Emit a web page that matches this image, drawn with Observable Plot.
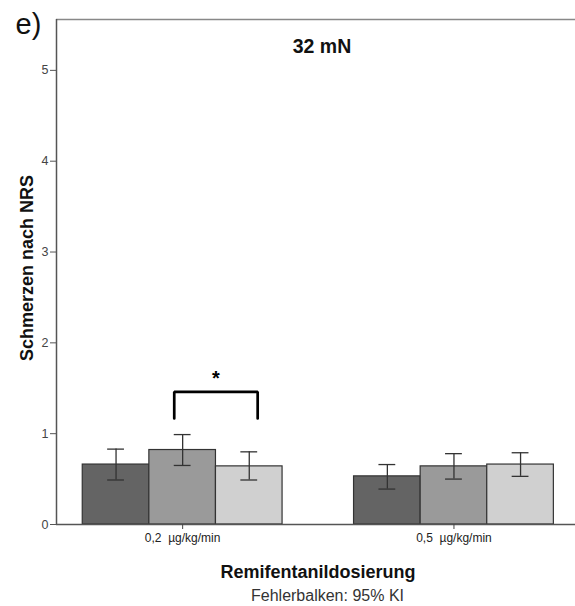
<!DOCTYPE html>
<html>
<head>
<meta charset="utf-8">
<script src="https://cdn.jsdelivr.net/npm/d3@7"></script>
<script src="https://cdn.jsdelivr.net/npm/@observablehq/plot@0.6"></script>
<style>
  html, body { margin: 0; padding: 0; background: #fff; overflow: hidden; }
  #chart { width: 575px; height: 606px; overflow: hidden; }
</style>
</head>
<body>
<div id="chart"></div>
<script>
// ---- data ----
const panelLabel = "e)";
const title = "32 mN";
const yLabel = "Schmerzen nach NRS";
const xLabel = "Remifentanildosierung";
const caption = "Fehlerbalken: 95% KI";
const groups = ["0,2  µg/kg/min", "0,5  µg/kg/min"];
const series = ["Messung 1", "Messung 2", "Messung 3"];
const seriesColors = ["#646464", "#9a9a9a", "#d0d0d0"];
const means = [[0.66, 0.82, 0.64], [0.53, 0.64, 0.66]];
const lower = [[0.49, 0.65, 0.49], [0.39, 0.50, 0.53]];
const upper = [[0.83, 0.99, 0.80], [0.66, 0.78, 0.79]];
const yTicks = [0, 1, 2, 3, 4, 5];
const yMax = 5.56;
// significance bracket: group 0, between series 1 and 2
const sig = [{group: 0, from: 1, to: 2, legY: 1.168, topY: 1.46, label: "*", labelY: 1.66}];

// ---- layout helpers (scale-unit geometry) ----
const xDomain = [-0.465, 1.448];
const barW = 0.2455;   // bar width in group units
const capHalf = 0.031; // error-bar cap half width
const xc = (g, s) => g + (s - 1) * barW;

const rows = [];
groups.forEach((g, gi) => series.forEach((s, si) => rows.push({
  gi, si, group: g, series: s, mean: means[gi][si], lo: lower[gi][si], hi: upper[gi][si]
})));

const bracketPts = [];
sig.forEach((b, k) => {
  const xa = xc(b.group, b.from) - capHalf, xb = xc(b.group, b.to) + capHalf;
  bracketPts.push({k, x: xa, y: b.legY}, {k, x: xa, y: b.topY}, {k, x: xb, y: b.topY}, {k, x: xb, y: b.legY});
});

const font = "Liberation Sans, Arial, sans-serif";

const chart = Plot.plot({
  width: 575,
  height: 606,
  marginLeft: 56,
  marginRight: 0,
  marginTop: 19,
  marginBottom: 82,
  style: {fontFamily: font, background: "#fff"},
  x: {domain: xDomain, range: [56, 575], label: null, axis: null},
  y: {domain: [0, yMax], label: null, axis: null},
  color: {domain: series, range: seriesColors},
  marks: [
    Plot.ruleY([yMax], {x1: xDomain[0], x2: xDomain[1], stroke: "#888", strokeWidth: 1.6}),
    Plot.rectY(rows, {x1: d => xc(d.gi, d.si) - barW / 2, x2: d => xc(d.gi, d.si) + barW / 2,
      y1: 0, y2: "mean", fill: "series", stroke: "#333", strokeWidth: 1.2}),
    Plot.ruleX(rows, {x: d => xc(d.gi, d.si), y1: "lo", y2: "hi", stroke: "#333", strokeWidth: 1.3}),
    Plot.ruleY(rows, {y: "hi", x1: d => xc(d.gi, d.si) - capHalf, x2: d => xc(d.gi, d.si) + capHalf, stroke: "#333", strokeWidth: 1.3}),
    Plot.ruleY(rows, {y: "lo", x1: d => xc(d.gi, d.si) - capHalf, x2: d => xc(d.gi, d.si) + capHalf, stroke: "#333", strokeWidth: 1.3}),
    Plot.line(bracketPts, {x: "x", y: "y", z: "k", stroke: "#000", strokeWidth: 2.7, strokeLinejoin: "miter", curve: "linear"}),
    Plot.text(sig, {x: d => (xc(d.group, d.from) + xc(d.group, d.to)) / 2, y: "labelY", text: "label",
      fontSize: 20, fontWeight: "bold", fill: "#000", dy: 5}),
    Plot.ruleY([0], {x1: xDomain[0], x2: xDomain[1], stroke: "#555", strokeWidth: 1.5}),
    Plot.ruleX([xDomain[0]], {y1: 0, y2: yMax, stroke: "#555", strokeWidth: 1.5}),
    Plot.axisY({ticks: yTicks, tickFormat: d => String(d), tickSize: 6, tickPadding: 2, fontSize: 12.5, fill: "#444", stroke: "#555", label: null}),
    Plot.axisX({ticks: groups.map((_, i) => i), tickFormat: i => groups[i], tickSize: 5, tickPadding: 4,
      fontSize: 12, fill: "#222", stroke: "#444", label: null}),
    Plot.text([title], {frameAnchor: "top", dy: 20, dx: 6, fontSize: 19.5, fontWeight: "bold", fill: "#111"}),
    Plot.text([yLabel], {frameAnchor: "left", dx: -29, dy: -4, rotate: -90, textAnchor: "middle", fontSize: 18, fontWeight: "bold", fill: "#111"}),
    Plot.text([panelLabel], {frameAnchor: "top-left", dx: -41, dy: -6, fontSize: 29, fill: "#111"}),
    Plot.text([xLabel], {frameAnchor: "bottom", dy: 53, dx: 2, fontSize: 18, fontWeight: "bold", fill: "#111"}),
    Plot.text([caption], {frameAnchor: "bottom", dy: 76, dx: 11.5, fontSize: 16, fill: "#333"})
  ]
});
document.getElementById("chart").appendChild(chart);
</script>
</body>
</html>
